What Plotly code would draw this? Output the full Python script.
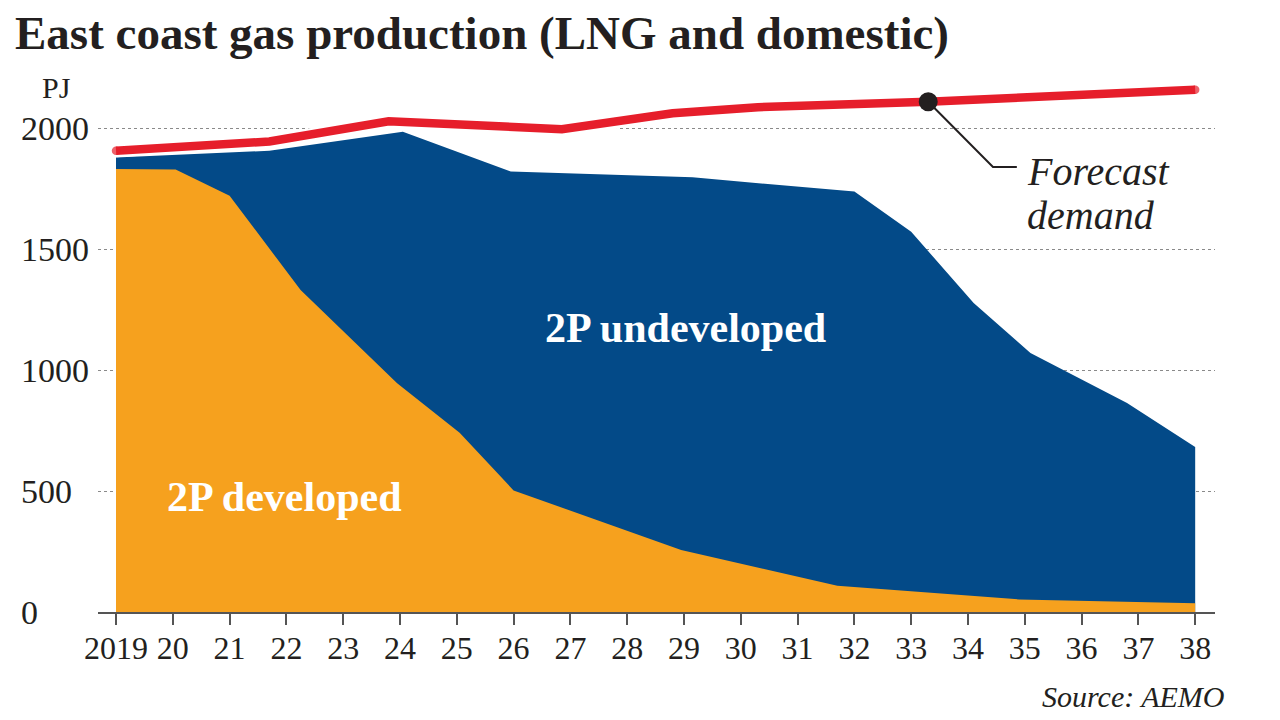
import plotly.graph_objects as go

# ---------------- data ----------------
dev_year = [2019.0, 2020.05, 2021.0, 2022.25, 2023.95, 2025.05, 2026.0, 2028.95, 2031.7, 2034.9, 2038.0]
dev_pj = [1832, 1830, 1722, 1332, 946, 741, 503, 256, 109, 52, 36]

tot_year = [2019.0, 2021.7, 2024.05, 2025.95, 2029.15, 2031.05, 2032.0, 2033.0, 2034.1, 2035.1, 2036.8, 2038.0]
tot_pj = [1880, 1908, 1987, 1822, 1798, 1760, 1739, 1573, 1278, 1071, 865, 683]

dem_year = [2019.0, 2021.7, 2023.8, 2026.85, 2028.8, 2030.3, 2033.3, 2038.0]
dem_pj = [1908, 1946, 2030, 1997, 2063, 2088, 2111, 2160]
highlight_idx = 6  # point marked with the black dot

x_ticks = list(range(2019, 2039))
x_tick_labels = ["2019"] + [str(y)[2:] for y in range(2020, 2039)]
y_ticks = [0, 500, 1000, 1500, 2000]
y_tick_labels = ["0", "500", "1000", "1500", "2000"]

# ---------------- style ----------------
ORANGE = "#F6A11E"
BLUE = "#034A88"
RED = "#E61E2B"
INK = "#231F20"
SERIF = "Liberation Serif"

W, H = 1280, 720
ML, MR, MT, MB = 98, 65, 60, 108
PW, PH = W - ML - MR, H - MT - MB
X0, X1 = 2018.683, 2038.349
Y1 = 2283.4


def xp(px):
    return (px - ML) / PW


def yp(py):
    return (H - MB - py) / PH


fig = go.Figure()

fig.add_trace(go.Scatter(x=tot_year, y=tot_pj, mode="lines", fill="tozeroy",
                         fillcolor=BLUE, line=dict(width=0, color=BLUE),
                         hoverinfo="skip", showlegend=False))
fig.add_trace(go.Scatter(x=dev_year, y=dev_pj, mode="lines", fill="tozeroy",
                         fillcolor=ORANGE, line=dict(width=0, color=ORANGE),
                         hoverinfo="skip", showlegend=False))
# white halo beneath demand line
fig.add_trace(go.Scatter(x=dem_year, y=dem_pj, mode="lines",
                         line=dict(width=13, color="white"),
                         hoverinfo="skip", showlegend=False))
end_sizes = [8.5 if i in (0, len(dem_year) - 1) else 0 for i in range(len(dem_year))]
fig.add_trace(go.Scatter(x=dem_year, y=dem_pj, mode="lines+markers",
                         line=dict(width=8.5, color=RED),
                         marker=dict(size=end_sizes, color=RED, line=dict(width=0)),
                         hoverinfo="skip", showlegend=False))

# leader line for the annotation
hx, hy = dem_year[highlight_idx], dem_pj[highlight_idx]
fig.add_shape(type="path",
              path=f"M {hx},{hy} L 2034.44,1841 L 2034.86,1841",
              line=dict(color=INK, width=2), layer="above")
fig.add_trace(go.Scatter(x=[hx], y=[hy], mode="markers",
                         marker=dict(size=19, color=INK, line=dict(width=0)),
                         hoverinfo="skip", showlegend=False))

# mask part of the 2000 gridline
fig.add_shape(type="rect", x0=2022.47, x1=2027.82, y0=1980, y1=2020,
              fillcolor="white", line=dict(width=0), layer="between")

annotations = []
annotations.append(dict(text="<b>East coast gas production (LNG and domestic)</b>",
                        xref="paper", yref="paper", x=xp(13), y=yp(33),
                        xanchor="left", yanchor="middle", showarrow=False,
                        font=dict(family=SERIF, size=47, color=INK)))
annotations.append(dict(text="PJ", xref="paper", yref="paper", x=xp(56), y=yp(87),
                        xanchor="center", yanchor="middle", showarrow=False,
                        font=dict(family=SERIF, size=30, color=INK)))
for v, lab in zip(y_ticks, y_tick_labels):
    annotations.append(dict(text=lab, xref="paper", yref="y", x=xp(19), y=v,
                            xanchor="left", yanchor="middle", showarrow=False,
                            font=dict(family=SERIF, size=34, color=INK)))
annotations.append(dict(text="<b>2P undeveloped</b>", x=2029.02, y=1175,
                        xanchor="center", yanchor="middle", showarrow=False,
                        font=dict(family=SERIF, size=42, color="white")))
annotations.append(dict(text="<b>2P developed</b>", x=2021.96, y=476,
                        xanchor="center", yanchor="middle", showarrow=False,
                        font=dict(family=SERIF, size=42, color="white")))
annotations.append(dict(text="<i>Forecast</i>", x=2035.0, y=1822,
                        xanchor="left", yanchor="middle", showarrow=False,
                        font=dict(family=SERIF, size=40, color=INK)))
annotations.append(dict(text="<i>demand</i>", x=2035.0, y=1640,
                        xanchor="left", yanchor="middle", showarrow=False,
                        font=dict(family=SERIF, size=40, color=INK)))
annotations.append(dict(text="<i>Source: AEMO</i>", xref="paper", yref="paper",
                        x=xp(1226), y=yp(696), xanchor="right", yanchor="middle",
                        showarrow=False, font=dict(family=SERIF, size=30, color=INK)))

fig.update_layout(
    width=W, height=H,
    margin=dict(l=ML, r=MR, t=MT, b=MB),
    paper_bgcolor="white", plot_bgcolor="white",
    showlegend=False, hovermode=False,
    annotations=annotations,
    xaxis=dict(range=[X0, X1], tickvals=x_ticks, ticktext=x_tick_labels,
               showgrid=False, zeroline=False, showline=True,
               linecolor="#555555", linewidth=1.5,
               ticks="outside", ticklen=11, tickwidth=1.5, tickcolor="#555555",
               ticklabelstandoff=-4,
               tickfont=dict(family=SERIF, size=32, color=INK), fixedrange=True),
    yaxis=dict(range=[0, Y1], tickvals=y_ticks, showticklabels=False,
               showgrid=True, gridcolor="#8a8a8a", gridwidth=1, griddash="dot",
               zeroline=False, showline=False, ticks="", fixedrange=True),
)

fig.write_html("out.html", config={"displayModeBar": False})
